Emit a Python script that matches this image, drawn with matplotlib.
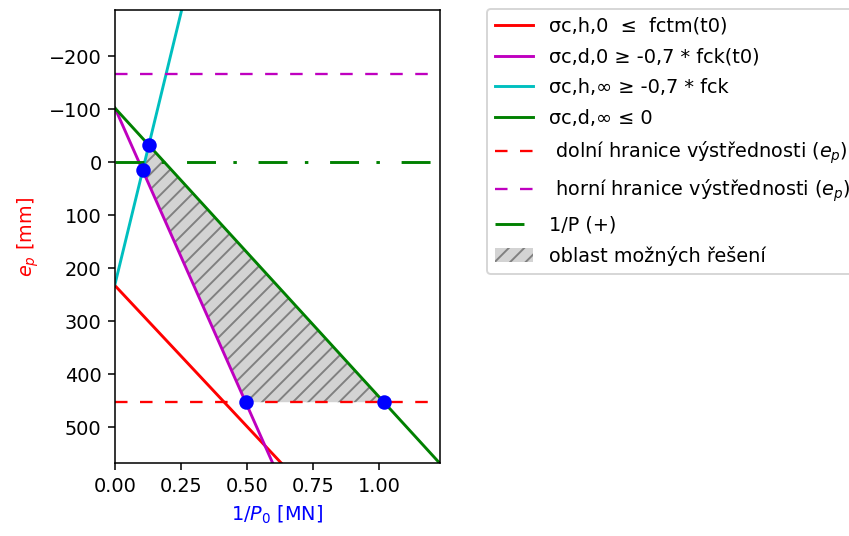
import numpy as np
import matplotlib.pyplot as plt

# constraint lines: e_p = intercept + slope * (1/P0)
labels = ["σc,h,0  ≤  fctm(t0)", "σc,d,0 ≥ -0,7 * fck(t0)",
          "σc,h,∞ ≥ -0,7 * fck", "σc,d,∞ ≤ 0"]
intercepts = [233, -102, 230, -102]
slopes = [532, 1122, -2050, 545]
colors = ["red", "m", "c", "green"]

# eccentricity limits
ep_lower = 453
ep_upper = -167

x_max = 1.23
y_lim = (568, -287)
x_ticks = [0.0, 0.25, 0.5, 0.75, 1.0]

dpi = 139
fig = plt.figure(figsize=(849 / dpi, 536 / dpi), dpi=dpi)
ax = fig.add_axes([0.1355, 0.136, 0.3825, 0.845])

x = np.linspace(0, x_max, 200)
for b, k, c, lab in zip(intercepts, slopes, colors, labels):
    ax.plot(x, b + k * x, color=c, lw=1.5, label=lab)

ax.axhline(ep_lower, color="red", lw=1.2, dashes=(5.4, 5.4),
           label=" dolní hranice výstřednosti ($e_p$)")
ax.axhline(ep_upper, color="m", lw=1.2, dashes=(5.4, 5.4),
           label=" horní hranice výstřednosti ($e_p$)")
ax.axhline(0, color="green", lw=1.5, dashes=(10, 6, 1.2, 7.5), label="1/P (+)")


def cross(i, j):
    xi = (intercepts[j] - intercepts[i]) / (slopes[i] - slopes[j])
    return xi, intercepts[i] + slopes[i] * xi


def at_level(i, y):
    return (y - intercepts[i]) / slopes[i], y


# feasible region: between magenta (left) and green (right), above red dashed, below cyan
pts = [cross(2, 3), cross(1, 2), at_level(1, ep_lower), at_level(3, ep_lower)]
px, py = zip(*pts)
ax.fill(px, py, facecolor="lightgray", edgecolor="gray", hatch="///", lw=0,
        label="oblast možných řešení")
ax.plot(px, py, "o", color="blue", ms=6.5, ls="none")

ax.set_xlim(0, x_max)
ax.set_ylim(*y_lim)
ax.set_xticks(x_ticks)
ax.set_xticklabels([f"{t:.2f}" for t in x_ticks])
ax.set_xlabel("1/$P_0$ [MN]", color="blue")
ax.set_ylabel("$e_p$ [mm]", color="red")

fig.legend(loc="upper left", bbox_to_anchor=(0.5736, 0.983), borderaxespad=0,
           labelspacing=0.6)

fig.savefig("out.png", dpi=dpi)
